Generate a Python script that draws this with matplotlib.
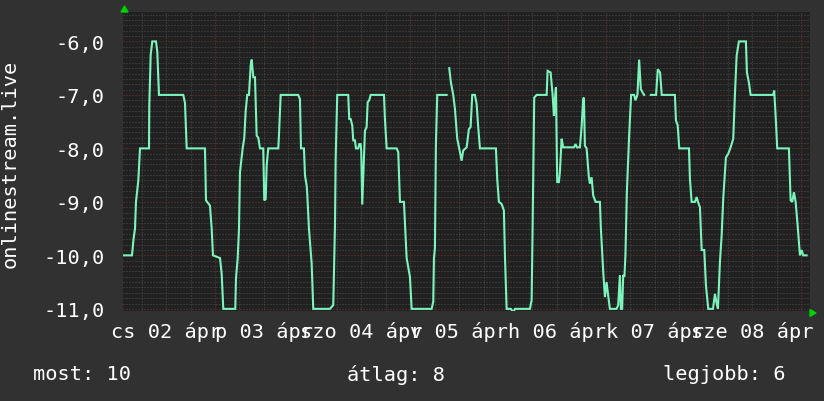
import numpy as np
import matplotlib
matplotlib.use("Agg")
import matplotlib.pyplot as plt
from matplotlib.ticker import MultipleLocator, FixedLocator

# ---- data (hours since 02 Apr 00:00, rank value) ----
hours = [1.65, 3.61, 3.98, 4.35, 4.59, 5.16, 5.58, 7.79, 7.86, 8.2, 8.6, 9.51, 9.83, 10.24,
         16.21, 16.63, 17.05, 21.54, 21.79, 22.77, 23.19, 23.51, 25.23, 25.65, 26.04,
         28.99, 29.16, 29.58, 29.9, 30.14, 30.8, 31.2, 31.54, 31.93, 32.35, 32.77, 33.02,
         33.41, 33.83, 34.24, 34.64, 35.05, 35.86, 36.11, 36.45, 36.7, 37.09, 39.55, 39.72,
         40.14, 44.46, 44.88, 45.13, 45.86, 46.11, 46.53, 46.67, 47.09, 47.75, 48.15,
         52.25, 53.06, 53.31, 53.48, 53.65, 54.04, 56.74, 56.99, 57.33, 57.73, 57.97,
         58.39, 58.64, 59.2, 59.45, 59.79, 59.94, 60.18, 60.6, 60.85, 61.26, 61.51, 61.9,
         62.25, 65.52, 65.76, 66.18, 68.64, 69.03, 69.45, 70.43, 71.09, 71.9, 72.32,
         77.23, 77.63, 77.8, 78.04, 78.29, 78.61, 80.92, 81.2,
         81.56, 81.97, 82.54, 82.96, 83.52, 84.01, 84.6, 84.99, 85.83, 86.39, 86.81,
         87.21, 87.87, 88.29, 88.68, 89.1, 93.03, 93.35, 93.76, 94.43, 94.99, 95.24,
         95.66, 96.71, 97.28, 97.69, 101.38, 101.8, 102.04, 102.44, 103.03, 105.49,
         105.73, 106.47, 106.96, 107.28, 107.52, 107.77, 108.09, 108.5, 108.75, 109.17,
         109.56, 112.19, 112.6, 112.92, 113.66, 114.08, 114.47, 114.65, 114.89, 115.31,
         115.87, 116.12, 116.54, 116.93, 117.52, 118.58, 118.82, 119.39, 119.81, 120.22,
         120.61, 121.03, 122.67, 123.07, 123.49, 123.73, 124.05, 124.3, 124.6, 124.85,
         125.2, 125.76, 126.25, 126.99, 127.31, 127.8, 128.22, 128.63, 129.03, 129.44, 130.2,
         131.08, 132.38, 132.8, 133.36, 133.77, 137.0, 137.27, 137.69, 138.08, 140.46,
         140.7, 141.12, 141.93, 142.35, 142.67, 143.16, 143.58, 144.22, 144.63, 145.2,
         146.36, 146.85, 147.26, 147.58, 148.07, 148.49, 148.88, 149.54, 150.11, 150.7,
         151.34, 151.75, 152.17, 152.73, 154.45, 154.7, 155.19, 155.61, 161.16, 161.41,
         161.75, 162.15, 165.02, 165.44, 165.83, 166.25, 166.67, 167.16, 167.73, 168.14,
         168.53, 169.36]
values = [-10.0, -10.0, -9.7, -9.5, -9.0, -8.6, -8.0, -8.0, -7.2, -6.25, -6.0, -6.0, -6.2, -7.0,
          -7.0, -7.15, -8.0, -8.0, -8.97, -9.07, -9.5, -10.0, -10.05, -10.35, -11.0,
          -11.0, -10.43, -10.05, -9.5, -8.45, -8.0, -7.8, -7.3, -7.0, -7.0, -6.45, -6.34,
          -6.67, -6.67, -7.76, -7.8, -8.0, -8.0, -8.97, -8.95, -8.32, -8.0, -8.0, -7.76,
          -7.0, -7.0, -7.08, -8.0, -8.0, -8.5, -8.7, -8.85, -9.5, -10.15, -11.0,
          -11.0, -10.93, -10.07, -9.45, -8.2, -7.0, -7.0, -7.45, -7.45, -7.57, -7.85,
          -7.85, -8.0, -8.0, -7.92, -7.92, -8.05, -9.05, -8.2, -7.67, -7.6, -7.14, -7.1,
          -7.0, -7.0, -7.45, -8.0, -8.0, -8.07, -9.0, -9.0, -10.05, -10.4, -11.0,
          -11.0, -10.87, -10.05, -9.87, -7.9, -7.0, -7.0, np.nan,
          -6.5, -6.77, -7.0, -7.26, -7.82, -8.0, -8.23, -8.04, -7.98, -7.64, -7.6,
          -7.0, -7.0, -7.17, -7.6, -8.0, -8.0, -8.57, -9.0, -9.04, -9.16, -10.0,
          -11.0, -11.0, -11.07, -11.0, -11.0, -10.84, -9.5, -7.05, -7.0, -7.0,
          -6.55, -6.58, -7.0, -7.39, -7.08, -6.86, -8.63, -8.63, -8.44, -7.82,
          -7.98, -7.98, -7.92, -7.98, -7.98, -7.6, -7.08, -7.05, -7.95, -8.0,
          -8.54, -8.66, -8.54, -8.88, -9.0, -9.0, -9.5, -10.3, -10.78, -10.5,
          -10.75, -11.0, -11.0, -10.93, -10.37, -11.0, -11.0, -10.37, -10.4, -10.0,
          -8.82, -7.76, -7.0, -7.0, -7.1, -7.0, -6.34, -6.89, -6.95, -7.0, np.nan,
          -7.0, -7.0, -6.52, -6.58, -7.0, -7.0, -7.48, -7.57, -8.0, -8.0,
          -8.57, -9.0, -9.0, -8.91, -9.0, -9.1, -9.9, -9.9, -10.56, -11.0,
          -11.0, -10.72, -10.9, -11.0, -10.12, -9.63, -8.94, -8.17, -8.1, -7.98,
          -7.82, -7.0, -6.27, -6.0, -6.0, -6.58, -6.77, -7.0, -7.0, -6.92,
          -7.39, -8.0, -8.0, -8.97, -9.0, -8.82, -9.0, -9.44, -10.0, -9.9,
          -10.0, -10.0]

day_labels = ["cs 02 ápr", "p 03 ápr", "szo 04 ápr", "v 05 ápr", "h 06 ápr", "k 07 ápr", "sze 08 ápr"]
label_hours = [12, 36, 60, 84, 108, 132, 156]
y_ticks = [-6.0, -7.0, -8.0, -9.0, -10.0, -11.0]
y_labels = ["-6,0", "-7,0", "-8,0", "-9,0", "-10,0", "-11,0"]
y_title = "onlinestream.live"
legend_items = ["most: 10", "átlag: 8", "legjobb: 6"]

# ---- style ----
BG = "#313131"
PLOT_BG = "#212121"
MINOR = "#4e4e4e"
MAJOR = "#6e3535"
LINE = "#7cf5bd"
TXT = "#ffffff"
FONT = "DejaVu Sans Mono"
FS = 14.6

fig = plt.figure(figsize=(8.24, 4.02), dpi=100, facecolor=BG)
ax = fig.add_axes([123/824, 1 - 312/402, (810 - 123)/824, (312 - 13)/402])
ax.set_facecolor(PLOT_BG)

x_lo, x_hi = 1.4, 170.2
y_lo, y_hi = -11.04, -5.45
ax.set_xlim(x_lo, x_hi)
ax.set_ylim(y_lo, y_hi)

# grid
dot = (0, (1, 2))
for v in np.arange(-11.0, -5.45, 0.1):
    r = round(v, 1)
    if abs(r - round(r)) < 1e-6:
        continue
    ax.axhline(r, color=MINOR, lw=0.72, ls=dot, zorder=1)
for h in range(6, 171, 6):
    if h % 24 == 0:
        continue
    ax.axvline(h, color=MINOR, lw=0.72, ls=dot, zorder=1)
for v in y_ticks:
    ax.axhline(v, color=MAJOR, lw=0.72, ls=dot, zorder=1.5)
for h in range(24, 171, 24):
    ax.axvline(h, color=MAJOR, lw=0.72, ls=dot, zorder=1.5)

ax.plot(hours, values, color=LINE, lw=1.5, zorder=3, solid_joinstyle="miter")

for s in ax.spines.values():
    s.set_visible(False)

ax.yaxis.set_major_locator(FixedLocator(y_ticks))
ax.set_yticklabels(y_labels)
ax.xaxis.set_major_locator(FixedLocator(label_hours))
ax.set_xticklabels(day_labels)
ax.tick_params(axis="both", length=0, colors=TXT, labelsize=FS)
ax.tick_params(axis="y", pad=13)
ax.tick_params(axis="x", pad=7)
for t in ax.get_xticklabels() + ax.get_yticklabels():
    t.set_fontfamily(FONT)

fig.text(10/824, 1 - 164/402, y_title, rotation=90, color=TXT, fontsize=FS,
         family=FONT, ha="center", va="center")

# legend line
fig.text(33/824, 1 - 375/402, legend_items[0], color=TXT, fontsize=FS, family=FONT, va="center", ha="left")
fig.text(347/824, 1 - 375/402, legend_items[1], color=TXT, fontsize=FS, family=FONT, va="center", ha="left")
fig.text(663/824, 1 - 375/402, legend_items[2], color=TXT, fontsize=FS, family=FONT, va="center", ha="left")

# axis arrows
fig.patches.append(plt.Polygon([[121/824, 1 - 13/402], [128/824, 1 - 13/402], [124.5/824, 1 - 7/402]],
                               closed=True, color="#00d000", transform=fig.transFigure))
fig.patches.append(plt.Polygon([[810/824, 1 - 310.5/402], [810/824, 1 - 317.5/402], [816/824, 1 - 314/402]],
                               closed=True, color="#00d000", transform=fig.transFigure))

fig.savefig("out.png", dpi=100, facecolor=BG)
